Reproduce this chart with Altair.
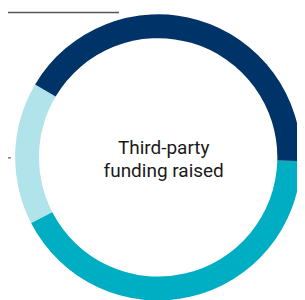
import altair as alt
import pandas as pd
import math

categories = ["Segment A", "Segment B", "Segment C"]
values = [42.0, 16.1, 41.9]
order = [1, 2, 3]
colors = ["#00aec3", "#b1e3eb", "#003468"]
center_label = ["Third-party", "funding raised"]

df = pd.DataFrame({"category": categories, "value": values, "order": order})

W, H = 297, 292
CX, CY = 154.3, 149.5
START = math.radians(91.5)

donut = alt.Chart(df).mark_arc(outerRadius=147, innerRadius=122.5).encode(
    theta=alt.Theta("value:Q", stack=True,
                    scale=alt.Scale(range=[START, START + 2 * math.pi])),
    color=alt.Color("category:N", scale=alt.Scale(domain=categories, range=colors), legend=None),
    order=alt.Order("order:Q"),
    x=alt.value(CX),
    y=alt.value(CY),
)

label = alt.Chart(pd.DataFrame({"t": [center_label]})).mark_text(
    font="Roboto", fontSize=19.5, lineHeight=24, color="#1a1a1a",
    align="center", baseline="alphabetic",
).encode(text="t", x=alt.value(160), y=alt.value(146))

line_top = alt.Chart(pd.DataFrame({"a": [0]})).mark_rule(color="#555555", strokeWidth=1.5).encode(
    x=alt.value(0), x2=alt.value(114), y=alt.value(0.5)
)
line_left = alt.Chart(pd.DataFrame({"a": [0]})).mark_rule(color="#555555", strokeWidth=1.2).encode(
    x=alt.value(0), x2=alt.value(3), y=alt.value(150)
)

chart = alt.layer(donut, label, line_top, line_left).properties(
    width=W, height=H, padding=0, autosize=alt.AutoSizeParams(type="none")
).configure_view(stroke=None)

chart.save("out.html", embed_options={"renderer": "svg", "actions": False})
